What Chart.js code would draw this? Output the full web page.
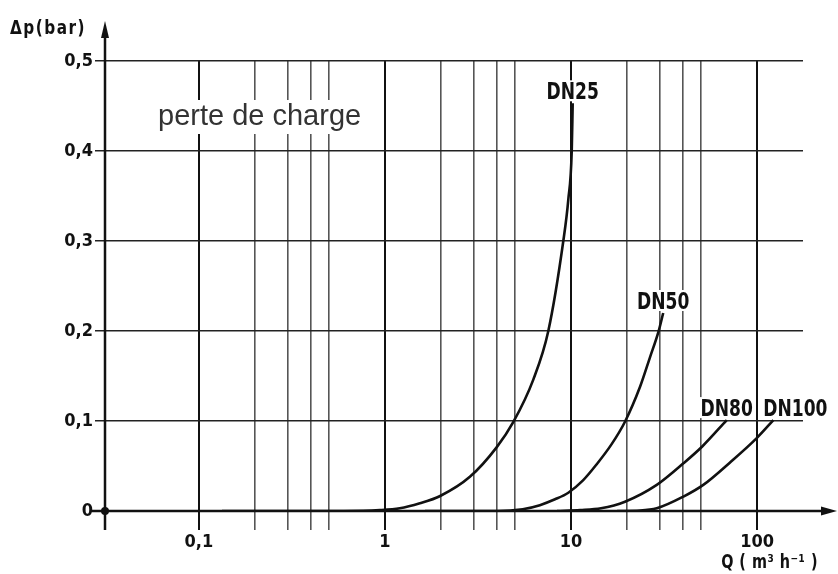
<!DOCTYPE html>
<html>
<head>
<meta charset="utf-8">
<script src="https://cdn.jsdelivr.net/npm/chart.js@4"></script>
<style>
  html, body { margin: 0; padding: 0; background: #fff; }
  #wrap { width: 838px; height: 574px; }
</style>
</head>
<body>
<div id="wrap"><canvas id="c" width="838" height="574"></canvas></div>
<script>
/* ---- DATA ---- */
const xGridQ     = [0.1, 0.2, 0.3, 0.4, 0.5, 1, 2, 3, 4, 5, 10, 20, 30, 40, 50, 100];
const xLabelQ    = [0.1, 1, 10, 100];
const xLabelText = ['0,1', '1', '10', '100'];
const yTicks     = [0, 0.1, 0.2, 0.3, 0.4, 0.5];

const curveNames = ['DN25', 'DN50', 'DN80', 'DN100'];

const dn25Q  = [0.133, 0.6, 0.94, 1.2, 1.54, 1.98, 2.86, 3.99, 4.9, 6.27, 7.55, 9.09, 9.67, 10.09, 10.21];
const dn25Dp = [0, 0, 0.001, 0.003, 0.0086, 0.0167, 0.038, 0.071, 0.099, 0.146, 0.2, 0.3, 0.346, 0.4, 0.453];

const dn50Q  = [1.64, 4.0, 5.5, 6.8, 8.2, 9.67, 11.6, 13.75, 16.5, 19.5, 23.5, 26.6, 29.5, 31.3];
const dn50Dp = [0, 0, 0.002, 0.0065, 0.013, 0.0203, 0.034, 0.052, 0.074, 0.0992, 0.138, 0.171, 0.199, 0.22];

const dn80Q  = [8.41, 11.2, 14.5, 19.5, 28.9, 40.2, 50.9, 68.7];
const dn80Dp = [0, 0.001, 0.003, 0.0103, 0.029, 0.053, 0.072, 0.101];

const dn100Q  = [17.7, 23.5, 28.9, 40.2, 51.4, 71.6, 99.6, 122.4];
const dn100Dp = [0, 0.0005, 0.003, 0.016, 0.029, 0.054, 0.081, 0.101];

/* ---- STYLE ---- */
const NARROW = "'Liberation Sans Narrow', 'DejaVu Sans Condensed', sans-serif";
const INK = '#111';
const labelShift = [0, 0, 0, 22];   // px nudge of the DN labels

function pts(qs, dps) {
  return qs.map((q, i) => ({ x: q, y: dps[i] }));
}
function isDecade(v) {
  return xLabelQ.indexOf(v) >= 0;
}
function fmtComma(v) {
  return String(Math.round(v * 10) / 10).replace('.', ',');
}

const series = [pts(dn25Q, dn25Dp), pts(dn50Q, dn50Dp), pts(dn80Q, dn80Dp), pts(dn100Q, dn100Dp)];

// tall, narrow lettering like the drawing
function drawTall(ctx, text, x, y, stretch) {
  ctx.save();
  ctx.translate(x, y);
  ctx.scale(1, stretch);
  ctx.fillText(text, 0, 0);
  ctx.restore();
}

/* ---- DECORATION PLUGIN ---- */
const decor = {
  id: 'decor',
  beforeDatasetsDraw(chart) {
    const { ctx, chartArea: a } = chart;
    ctx.save();
    ctx.font = "29px 'Liberation Sans', Arial, sans-serif";
    const t = 'perte de charge';
    const w = ctx.measureText(t).width;
    const x = a.left + 53, y = a.top + 64;
    ctx.fillStyle = '#fff';
    ctx.fillRect(x - 4, y - 25, w + 8, 34);
    ctx.fillStyle = '#333';
    ctx.textBaseline = 'alphabetic';
    ctx.fillText(t, x, y);
    ctx.restore();
  },
  afterDatasetsDraw(chart) {
    const { ctx, chartArea: a, scales } = chart;
    const sx = scales.x, sy = scales.y;
    ctx.save();

    // curve labels
    ctx.font = 'bold 19px ' + NARROW;
    ctx.textAlign = 'center';
    ctx.textBaseline = 'alphabetic';
    series.forEach((s, i) => {
      const last = s[s.length - 1];
      const px = sx.getPixelForValue(last.x) + labelShift[i];
      const py = sy.getPixelForValue(last.y) - 4;
      const w = ctx.measureText(curveNames[i]).width;
      ctx.fillStyle = '#fff';
      ctx.fillRect(px - w / 2 - 2, py - 19, w + 4, 21);
      ctx.fillStyle = INK;
      drawTall(ctx, curveNames[i], px, py, 1.22);
    });

    // axes with arrows
    const y0 = sy.getPixelForValue(0);
    ctx.strokeStyle = INK;
    ctx.fillStyle = INK;
    ctx.lineWidth = 2.5;
    ctx.beginPath();
    ctx.moveTo(a.left - 13, y0);
    ctx.lineTo(chart.width - 10, y0);
    ctx.moveTo(a.left, a.bottom + 19);
    ctx.lineTo(a.left, a.top - 30);
    ctx.stroke();

    ctx.beginPath();
    ctx.moveTo(chart.width - 1, y0);
    ctx.lineTo(chart.width - 17, y0 - 4.5);
    ctx.lineTo(chart.width - 17, y0 + 4.5);
    ctx.closePath();
    ctx.fill();

    ctx.beginPath();
    ctx.moveTo(a.left, a.top - 40);
    ctx.lineTo(a.left - 4, a.top - 23);
    ctx.lineTo(a.left + 4, a.top - 23);
    ctx.closePath();
    ctx.fill();

    ctx.beginPath();
    ctx.arc(a.left, y0, 4, 0, Math.PI * 2);
    ctx.fill();

    // axis titles
    ctx.textAlign = 'left';
    ctx.font = 'bold 17px ' + NARROW;
    ctx.letterSpacing = '1.5px';
    drawTall(ctx, 'Δp(bar)', 10, 34, 1.15);
    ctx.textAlign = 'right';
    ctx.font = 'bold 16px ' + NARROW;
    ctx.letterSpacing = '0.5px';
    drawTall(ctx, 'Q ( m³ h⁻¹ )', a.right + 15, 568, 1.2);
    ctx.restore();
  }
};

/* ---- CHART ---- */
new Chart(document.getElementById('c'), {
  type: 'line',
  data: {
    datasets: series.map((s, i) => ({
      label: curveNames[i],
      data: s,
      borderColor: INK,
      borderWidth: 2.6,
      pointRadius: 0,
      cubicInterpolationMode: 'monotone',
      fill: false
    }))
  },
  options: {
    responsive: false,
    animation: false,
    devicePixelRatio: 1,
    layout: { padding: { left: 0, right: 35, top: 61, bottom: 0 } },
    plugins: { legend: { display: false }, tooltip: { enabled: false } },
    scales: {
      x: {
        type: 'logarithmic',
        min: 0.03126,
        max: 176.6,
        afterBuildTicks: s => { s.ticks = xGridQ.map(v => ({ value: v })); },
        afterFit: s => { s.height = 63; },
        border: { display: false },
        grid: {
          color: c => isDecade(c.tick && c.tick.value) ? '#111' : '#555',
          lineWidth: c => isDecade(c.tick && c.tick.value) ? 2 : 1.6,
          tickLength: 19
        },
        ticks: {
          autoSkip: false,
          maxRotation: 0,
          padding: 2,
          color: INK,
          font: { family: NARROW, size: 18, weight: 'bold' },
          callback: v => {
            const i = xLabelQ.indexOf(v);
            return i >= 0 ? xLabelText[i] : '';
          }
        }
      },
      y: {
        min: 0,
        max: 0.5,
        afterBuildTicks: s => { s.ticks = yTicks.map(v => ({ value: v })); },
        afterFit: s => { s.width = 105; },
        border: { display: false },
        grid: { color: '#222', lineWidth: 1.5, tickLength: 10 },
        ticks: {
          padding: 2,
          color: INK,
          font: { family: NARROW, size: 18, weight: 'bold' },
          callback: v => fmtComma(v)
        }
      }
    }
  },
  plugins: [decor]
});
</script>
</body>
</html>
